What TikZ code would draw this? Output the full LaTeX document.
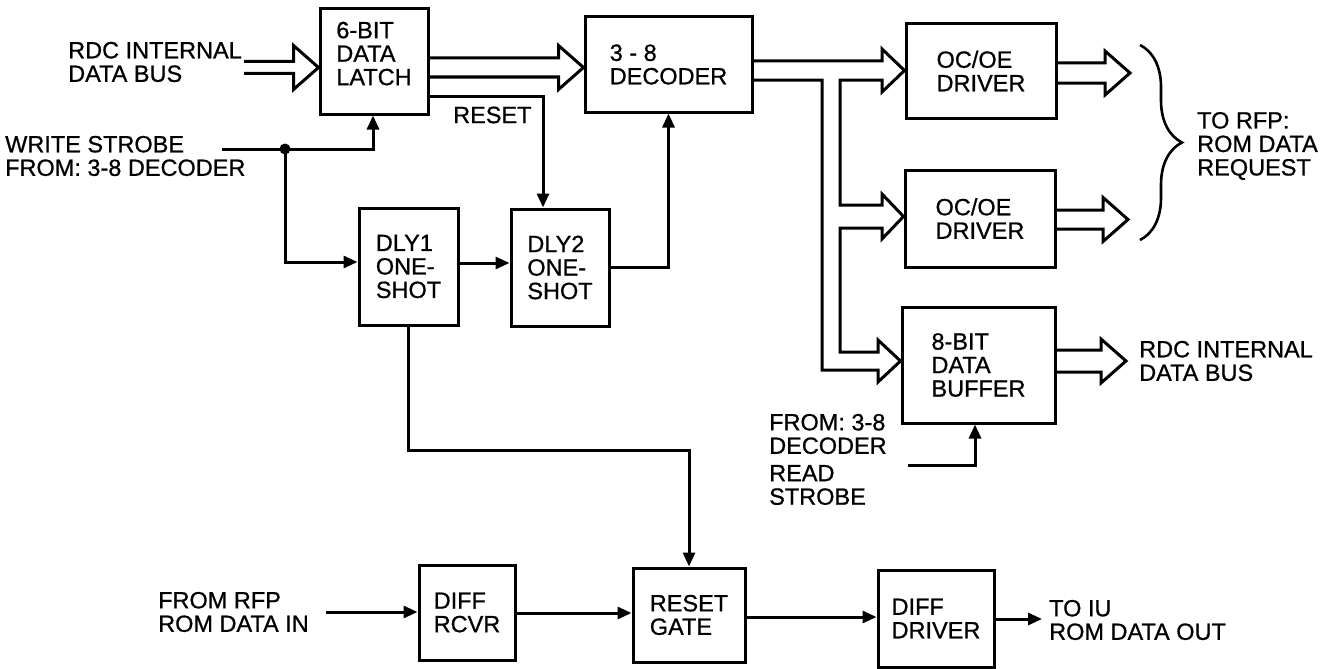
\documentclass[tikz,border=0pt]{standalone}
\usepackage{fontspec}
\setmainfont{Liberation Sans}[FakeBold=0.8]
\usetikzlibrary{arrows.meta,calc,decorations.pathreplacing}

\tikzset{
  blk/.style={draw, line width=3pt, align=left, inner sep=0pt},
  sig/.style={line width=3pt, -{Triangle[length=14pt,width=12pt]}},
  bus/.style={line width=3pt},
  lbl/.style={anchor=west, align=left, inner sep=0pt},
}

% hollow bus arrow: [half shaft width] start, tip
\newcommand{\busto}[3][9]{%
  \draw[bus] let \p1=#2, \p2=#3 in
    (\x1,\y2+#1pt) -- (\x2-25pt,\y2+#1pt) -- (\x2-25pt,\y2+22pt) -- (\x2,\y2)
    -- (\x2-25pt,\y2-22pt) -- (\x2-25pt,\y2-#1pt) -- (\x1,\y2-#1pt);}

\begin{document}
\begin{tikzpicture}[x=1pt, y=-1pt, every node/.style={font=\fontsize{23.5}{23.5}\selectfont}]
\useasboundingbox (0,0) rectangle (1333,669);

% blocks
\node[blk, minimum width=108pt, minimum height=105pt, text depth=16pt] (latch) at (374,61.5) {6-BIT\\DATA\\LATCH};
\node[blk, minimum width=167pt, minimum height=95pt] (dec) at (668.5,64.5) {3 - 8\\DECODER};
\node[blk, minimum width=99pt, minimum height=117pt] (dly1) at (408.5,266.5) {DLY1\\ONE-\\SHOT};
\node[blk, minimum width=98pt, minimum height=117pt] (dly2) at (560,267.5) {DLY2\\ONE-\\SHOT};
\node[blk, minimum width=150pt, minimum height=94pt] (drv1) at (981,71) {OC/OE\\DRIVER};
\node[blk, minimum width=150pt, minimum height=97pt] (drv2) at (980,218.5) {OC/OE\\DRIVER};
\node[blk, minimum width=153pt, minimum height=116pt] (buf) at (978.5,365) {8-BIT\\DATA\\BUFFER};
\node[blk, minimum width=96pt, minimum height=95pt] (rcvr) at (467,612.5) {DIFF\\RCVR};
\node[blk, minimum width=112pt, minimum height=94pt] (gate) at (689,615) {RESET\\GATE};
\node[blk, minimum width=116pt, minimum height=97pt] (ddrv) at (936,618.5) {DIFF\\DRIVER};

% labels
\node[lbl] (rdcin) at (68,62) {RDC INTERNAL\\DATA BUS};
\node[lbl] (wstrobe) at (5,156) {WRITE STROBE\\FROM: 3-8 DECODER};
\node[lbl] (rstlbl) at (453,115) {RESET};
\node[lbl] (rfp) at (1197,146) {TO RFP:\\ROM DATA\\REQUEST};
\node[lbl] (rdcout) at (1139,361) {RDC INTERNAL\\DATA BUS};
\node[lbl] (rsfrom) at (769,434) {FROM: 3-8\\DECODER};
\node[lbl] (rslbl) at (769,485) {READ\\STROBE};
\node[lbl] (rfpin) at (158,612) {FROM RFP\\ROM DATA IN};
\node[lbl] (iuout) at (1049,620) {TO IU\\ROM DATA OUT};

% free ends
\coordinate (ws) at (222,149);
\coordinate (wsdot) at (285,149);
\coordinate (rs) at (908,465);
\coordinate (rin) at (326,612);
\coordinate (rout) at (1042,619);

% buses
\busto[6]{(244,67.5)}{(latch.west |- 0,67.5)}
\busto[9.5]{(latch.east |- 0,67.5)}{(dec.west |- 0,67.5)}
\busto[10]{(drv1.east |- 0,73)}{(1130,73)}
\busto[9.5]{(drv2.east |- 0,219.5)}{(1128,219.5)}
\busto[11]{(buf.east |- 0,361)}{(1126,361)}
\draw[bus] (dec.east |- 0,61) -- (882,61) -- (882,49) -- (drv1.west |- 0,70.5)
  -- (882,92) -- (882,80) -- (840,80) -- (840,205) -- (882,205) -- (882,194)
  -- (drv2.west |- 0,216.5) -- (882,239) -- (882,228) -- (840,228) -- (840,352)
  -- (878,352) -- (878,340) -- (buf.west |- 0,361) -- (878,382) -- (878,370)
  -- (822,370) -- (822,80) -- (dec.east |- 0,80);

% signals
\draw[sig] (ws) -| (latch.south -| 373,0);
\fill (wsdot) circle (5.5);
\draw[sig] (wsdot) |- (dly1.west |- 0,262);
\draw[sig] (latch.east |- 0,96) -| (dly2.north -| 543,0);
\draw[sig] (dly1.east |- 0,263) -- (dly2.west |- 0,263);
\draw[sig] (dly2.east |- 0,267) -| (dec.south);
\draw[sig] (dly1.south) -- (dly1.south |- 0,450) -| (gate.north);
\draw[sig] (rs) -| (buf.south -| 975,0);
\draw[sig] (rin) -- (rcvr.west |- rin);
\draw[sig] (rcvr.east |- 0,613) -- (gate.west |- 0,613);
\draw[sig] (gate.east |- 0,617) -- (ddrv.west |- 0,617);
\draw[sig] (ddrv.east |- rout) -- (rout);

% brace
\draw[line width=2.6pt, decorate, decoration={brace, amplitude=42pt}] (1140,45) -- (1140,240);
\end{tikzpicture}
\end{document}
